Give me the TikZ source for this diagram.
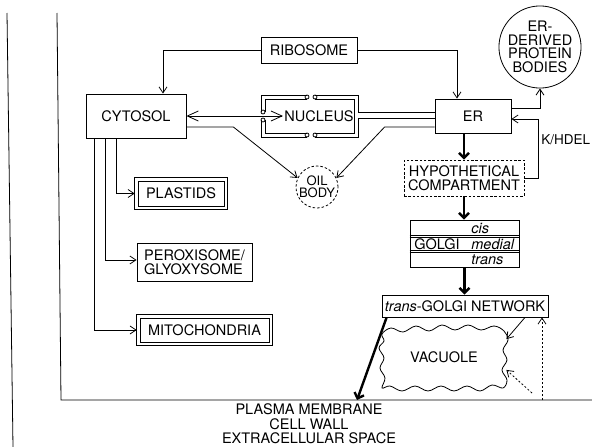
\documentclass[tikz,border=0pt]{standalone}
\usepackage{fontspec}
\setmainfont{TeX Gyre Heros}
\usetikzlibrary{arrows.meta}

\begin{document}
\begin{tikzpicture}[x=1pt, y=-1pt, line width=0.8pt,
	every node/.style={font=\fontsize{14.5}{13.5}\selectfont, inner sep=1pt},
	>={Straight Barb[length=6pt,width=8pt]},
	box/.style={draw, rectangle, inner sep=0pt},
	dashbox/.style={box, dash pattern=on 2.5pt off 1.8pt},
	arr/.style={->},
	bigarr/.style={<->, >={Straight Barb[length=11pt,width=10pt]}},
	fatarr/.style={->, line width=2.4pt, >={Straight Barb[length=5pt,width=10pt]}},
	dotarr/.style={->, dash pattern=on 2pt off 2pt},
	thin line/.style={line width=0.6pt},
	it/.style={font=\fontsize{14.5}{13.5}\selectfont\itshape}]
	\useasboundingbox (0,0) rectangle (592,447);
	% cell wall and plasma membrane
	\coordinate (pmL) at (61,400);
	\coordinate (pmR) at (592,400);
	\draw (7,13) -- (13,447);
	\draw (57,13) -- (pmL) -- (pmR);
	\node[align=center, font=\fontsize{14.5}{14.5}\selectfont] (pm) at (309,424) {PLASMA MEMBRANE\\CELL WALL\\EXTRACELLULAR SPACE};
	% compartments
	\node[box, minimum width=96pt, minimum height=26pt] (rib) at (309,50) {RIBOSOME};
	\node[box, minimum width=100pt, minimum height=44pt] (cyt) at (136,116) {CYTOSOL};
	\node (nuc) at (319,116) {NUCLEUS};
	\node[box, minimum width=76pt, minimum height=34pt] (er) at (473,116) {ER};
	\node[circle, draw, minimum size=70pt, inner sep=0pt, align=center] (pb) at (540,47) {ER-\\DERIVED\\PROTEIN\\BODIES};
	\node[circle, draw, dash pattern=on 2.5pt off 2pt, minimum size=42pt, inner sep=0pt, align=center, font=\fontsize{13}{12}\selectfont] (oil) at (317,187) {OIL\\BODY};
	\node[dashbox, minimum width=120pt, minimum height=36pt, align=center] (hyp) at (464,178) {HYPOTHETICAL\\COMPARTMENT};
	\node[box, minimum width=109pt, minimum height=47pt] (gol) at (464.5,243.5) {};
	\draw[thin line] (gol.west |- 0,235) -- (gol.east |- 0,235);
	\draw[thin line] (gol.west |- 0,237.5) -- (gol.east |- 0,237.5);
	\draw[thin line] (gol.west |- 0,250) -- (gol.east |- 0,250);
	\draw[thin line] (gol.west |- 0,252.5) -- (gol.east |- 0,252.5);
	\node[anchor=west] (golname) at (413,244) {GOLGI};
	\node[it, anchor=west] (cis) at (470,228) {cis};
	\node[it, anchor=west] (medial) at (470,244) {medial};
	\node[it, anchor=west] (trans) at (470,259.5) {trans};
	\node[box, minimum width=166pt, minimum height=22pt] (tgn) at (465,306) {\textit{trans}-GOLGI NETWORK};
	\node[minimum width=124pt, minimum height=61pt] (vac) at (444,357) {VACUOLE};
	\draw[tension=0.6] plot[smooth cycle] coordinates {(382,334) (391,328) (403,332) (416,326) (429,331) (442,325)
		(455,330) (468,325) (481,330) (494,326) (504,331) (508,340) (503,350) (507,360) (502,370) (507,380)
		(503,388) (492,385) (480,391) (467,386) (454,391) (441,386) (428,391) (415,386) (402,391) (390,386)
		(382,388) (385,378) (380,368) (384,358) (379,348) (384,341)};
	\node[box, thin line, minimum width=86pt, minimum height=25pt] (pla) at (181,193.5) {PLASTIDS};
	\draw[thin line] ([shift={(-3pt,-3pt)}]pla.south west) rectangle ([shift={(3pt,3pt)}]pla.north east);
	\node[box, minimum width=115pt, minimum height=38pt, align=left] (per) at (194.5,262) {PEROXISOME/\\GLYOXYSOME};
	\node[box, thin line, minimum width=129pt, minimum height=24pt] (mit) at (204.5,330) {MITOCHONDRIA};
	\draw[thin line] ([shift={(-3pt,-3pt)}]mit.south west) rectangle ([shift={(3pt,3pt)}]mit.north east);
	% nuclear envelope with pores
	\draw (307,95) -- (261,95) -- (261,112);
	\draw (307,99) -- (265,99) -- (265,112);
	\draw (261,120) -- (261,137) -- (307,137);
	\draw (265,120) -- (265,133) -- (307,133);
	\draw (315,95) -- (358,95) -- (358,112) -- (er.west |- 0,112);
	\draw (315,137) -- (358,137) -- (358,118) -- (er.west |- 0,118);
	\draw (315,99) -- (354,99) -- (354,133) -- (315,133);
	\foreach \p in {(307,97),(315,97),(307,135),(315,135),(263,112),(263,120)}
		\draw \p circle[radius=2pt];
	% routes
	\draw[arr] (rib.west) -| ([xshift=27pt]cyt.north);
	\draw[arr] (rib.east) -| ([xshift=-16pt]er.north);
	\draw[bigarr] (cyt.east) -- (nuc.west);
	\draw[arr] ([yshift=-11pt]cyt.east) -- ++(47,0) -- (oil.155);
	\draw[arr] ([yshift=-11pt]er.west) -- ++(-50,0) -- (oil.25);
	\draw[arr] ([yshift=8pt]er.east) -| (pb.south);
	\coordinate (kh) at (538,119);
	\draw[arr] (hyp.east) -| (kh) -- (kh -| er.east);
	\node[anchor=west, font=\fontsize{13.5}{13.5}\selectfont] (khdel) at (540,140) {K/HDEL};
	\draw[fatarr] (er.south -| hyp.north) -- (hyp.north);
	\draw[fatarr] (hyp.south) -- (hyp.south |- gol.north);
	\draw[fatarr] (gol.south) -- (gol.south |- tgn.north);
	\coordinate (exo) at (357,400);
	\draw[fatarr] ([xshift=5pt]tgn.south west) -- (exo);
	\draw[arr] ([xshift=60pt]tgn.south) -- ([yshift=-13pt]vac.north east);
	\coordinate (ret) at (542,400);
	\coordinate (ret2) at (532,393);
	\draw[dotarr] (ret) -- (ret |- tgn.south);
	\draw[dotarr] (ret2) -- ([yshift=18pt]vac.south east);
	\draw[arr] ([xshift=31pt]cyt.south west) |- ([xshift=-3pt]pla.west);
	\draw[arr] ([xshift=20pt]cyt.south west) |- ([yshift=2pt]per.west);
	\draw[arr] ([xshift=9pt]cyt.south west) |- ([xshift=-3pt]mit.west);
\end{tikzpicture}
\end{document}
